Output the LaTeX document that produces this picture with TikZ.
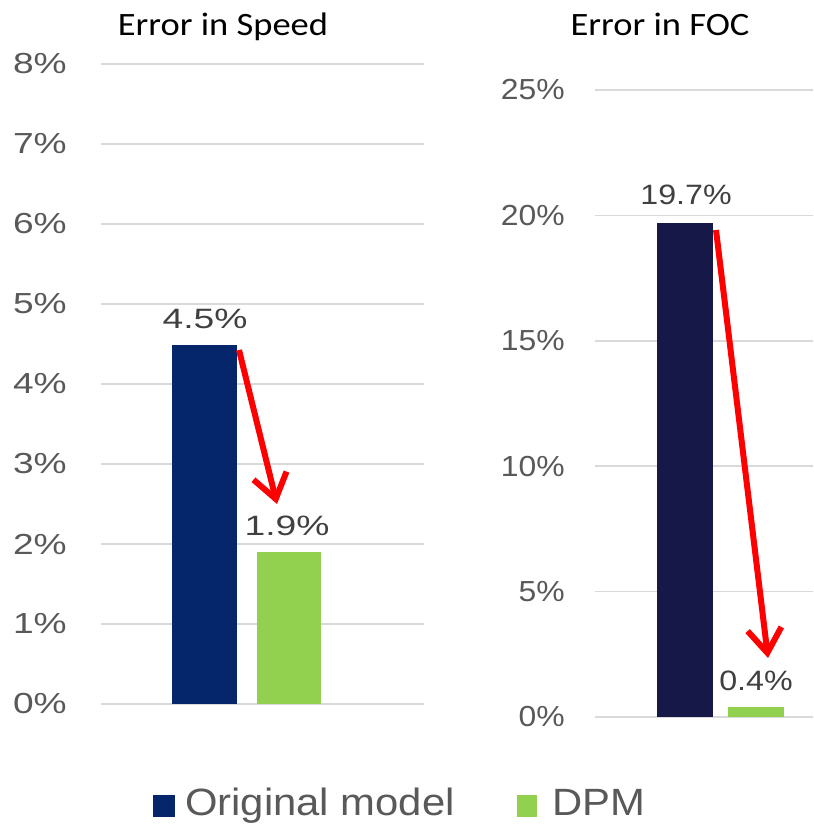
\documentclass[tikz,border=0pt]{standalone}
\usepackage{fontspec}
\setmainfont{Liberation Sans}
\newfontfamily\titlefont{Carlito}
\usetikzlibrary{arrows.meta}
\definecolor{speedblue}{HTML}{05266A}
\definecolor{focnavy}{HTML}{161848}
\definecolor{dpmgreen}{HTML}{92D050}
\definecolor{gridgray}{HTML}{D9D9D9}
\definecolor{ticktext}{HTML}{595959}
\definecolor{valtext}{HTML}{404040}
\tikzset{
  grid line/.style={gridgray, line width=1.5pt},
  tick label/.style={anchor=east, inner sep=0pt, text=ticktext, font=\fontsize{29}{29}\selectfont},
  value label/.style={anchor=base, inner sep=0pt, text=valtext, font=\fontsize{28}{28}\selectfont},
  chart title/.style={anchor=base, inner sep=0pt, font=\titlefont\fontsize{32.6}{33}\selectfont, xscale=1.12},
  drop arrow/.style={red, line width=6pt, -{Straight Barb[length=24pt,width=34pt]}},
  legend text/.style={anchor=base west, inner sep=0pt, text=ticktext, font=\fontsize{38}{38}\selectfont, xscale=1.1}
}
\begin{document}
\begin{tikzpicture}[x=1pt,y=-1pt]
\useasboundingbox (0,0) rectangle (813,826);
\fill[white] (0,0) rectangle (813,826);

\node[chart title] (speedtitle) at (223,36) {Error in Speed};
\foreach \k in {0,...,8}{
  \draw[grid line] (101,{704-80*\k}) -- (424,{704-80*\k});
  \node[tick label, xscale=1.28] (speedtick\k) at (67,{704-80*\k}) {\k\%};
}
\fill[speedblue] (172,704) rectangle (237,345);
\fill[dpmgreen] (257,704) rectangle (321,552);
\node[value label, xscale=1.33] (speedorig) at (205,328) {4.5\%};
\node[value label, xscale=1.33] (speeddpm) at (287,535) {1.9\%};
\coordinate (speedfrom) at (239,350);
\coordinate (speedto) at (277,504);
\draw[drop arrow] (speedfrom) -- (speedto);

\node[chart title] (foctitle) at (660,36) {Error in FOC};
\foreach \v in {0,5,...,25}{
  \draw[grid line] (595,{717-25.08*\v}) -- (813,{717-25.08*\v});
  \node[tick label, xscale=1.1] (foctick\v) at (565,{717-25.08*\v}) {\v\%};
}
\fill[focnavy] (657,717) rectangle (713,223);
\fill[dpmgreen] (728,717) rectangle (784,707);
\node[value label, xscale=1.15] (focorig) at (686,205) {19.7\%};
\node[value label, xscale=1.15] (focdpm) at (756,690) {0.4\%};
\coordinate (focfrom) at (716,230);
\coordinate (focto) at (768,658);
\draw[drop arrow] (focfrom) -- (focto);

\fill[speedblue] (153,795) rectangle (175,817);
\node[legend text] (origkey) at (185,815) {Original model};
\fill[dpmgreen] (517,795) rectangle (537,817);
\node[legend text] (dpmkey) at (552,815) {DPM};
\end{tikzpicture}
\end{document}
